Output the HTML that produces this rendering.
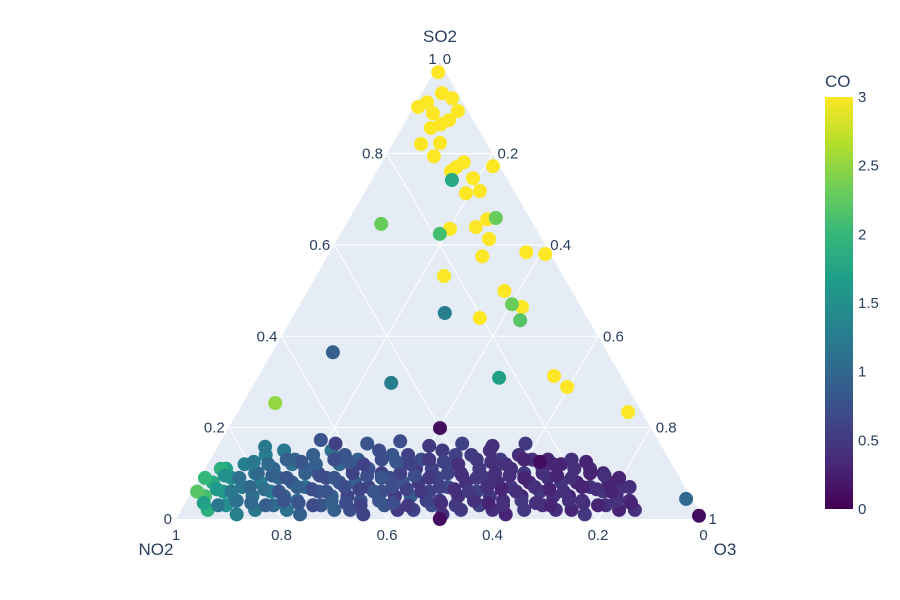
<!DOCTYPE html>
<html><head><meta charset="utf-8">
<style>
body{margin:0;background:#fff;}
svg{display:block;font-family:"Liberation Sans",sans-serif;}
</style></head>
<body>
<svg id="chart" width="900" height="600" viewBox="0 0 900 600">
<defs>
<linearGradient id="viridis" x1="0" y1="1" x2="0" y2="0">
<stop offset="0" stop-color="#440154"/><stop offset="0.111" stop-color="#482878"/><stop offset="0.222" stop-color="#3e4989"/><stop offset="0.333" stop-color="#31688e"/><stop offset="0.444" stop-color="#26828e"/><stop offset="0.556" stop-color="#1f9e89"/><stop offset="0.667" stop-color="#35b779"/><stop offset="0.778" stop-color="#6ece58"/><stop offset="0.889" stop-color="#b5de2b"/><stop offset="1" stop-color="#fde725"/>
</linearGradient>
</defs>
</svg>
<script>
// SO2 (a), O3 (c) fractions; NO2 = 1 - a - c; CO colour values
const so2 = [
0.02,0.03,0.01,0.02,0.03,0.02,0.01,0.03,0.02,0.02,0.01,0.03,0.02,0.02,0.03,0.01,0.02,0.03,0.02,0.01,0.02,0.03,0.02,0.02,0.01,0.03,0.02,0.02,
0.05,0.06,0.04,0.05,0.06,0.05,0.04,0.06,0.05,0.05,0.04,0.06,0.05,0.05,0.06,0.04,0.05,0.06,0.05,0.04,0.05,0.06,0.05,0.05,0.04,0.06,0.05,0.04,
0.08,0.09,0.07,0.08,0.09,0.08,0.07,0.09,0.08,0.08,0.07,0.09,0.08,0.08,0.09,0.07,0.08,0.09,0.08,0.07,0.08,0.09,0.08,0.08,0.07,0.08,0.07,
0.11,0.12,0.10,0.11,0.12,0.11,0.10,0.12,0.11,0.11,0.10,0.12,0.11,0.11,0.12,0.10,0.11,0.12,0.11,0.10,0.11,0.12,0.11,0.11,0.10,
0.14,0.15,0.13,0.14,0.15,0.14,0.13,0.15,0.14,0.14,0.13,0.15,0.14,0.14,0.15,0.13,0.14,0.13,0.13,
0.165,0.165,0.17,0.16,0.165,0.16,0.165,
0.09,0.06,0.11,0.0,
0.035,0.03,0.04,0.035,0.03,0.04,0.035,0.03,0.04,0.035,0.03,0.04,0.035,0.03,0.04,0.035,0.03,0.04,0.035,0.03,0.04,0.035,0.03,0.04,0.035,0.03,0.04,0.035,
0.065,0.06,0.07,0.065,0.06,0.07,0.065,0.06,0.07,0.065,0.06,0.07,0.065,0.06,0.07,0.065,0.06,0.07,0.065,0.06,0.07,0.065,0.06,0.07,0.065,0.06,0.07,
0.095,0.09,0.10,0.095,0.09,0.10,0.095,0.09,0.10,0.095,0.09,0.10,0.095,0.09,0.10,0.095,0.09,0.10,0.095,0.09,0.10,0.095,0.09,0.10,0.095,0.09,
0.125,0.12,0.13,0.125,0.12,0.13,0.125,0.12,0.13,0.125,0.12,0.13,0.125,0.12,0.13,0.125,0.12,0.13,0.125,0.12,0.13,0.125,
0.978,0.932,0.921,0.912,0.902,0.893,0.888,0.873,0.864,0.856,0.821,0.823,0.794,0.781,0.770,0.761,0.772,0.746,0.718,0.713,0.656,0.639,0.635,0.613,0.575,0.584,0.580,0.532,0.499,0.464,0.440,0.313,0.289,0.234,
0.742,0.646,0.624,0.659,0.470,0.435,0.451,0.365,0.298,0.309,0.254,0.199,0.173,0.125,0.044,0.007,0.158];
const o3 = [
0.05,0.08,0.11,0.14,0.17,0.20,0.23,0.26,0.29,0.32,0.35,0.38,0.41,0.44,0.47,0.50,0.53,0.56,0.59,0.62,0.65,0.68,0.71,0.74,0.77,0.80,0.83,0.86,
0.03,0.06,0.09,0.12,0.15,0.18,0.21,0.24,0.27,0.30,0.33,0.36,0.39,0.42,0.45,0.48,0.51,0.54,0.57,0.60,0.63,0.66,0.69,0.72,0.75,0.78,0.81,0.84,
0.03,0.06,0.09,0.12,0.15,0.18,0.21,0.24,0.27,0.30,0.33,0.36,0.39,0.42,0.45,0.48,0.51,0.54,0.57,0.60,0.63,0.66,0.69,0.72,0.75,0.78,0.81,
0.04,0.07,0.10,0.13,0.16,0.19,0.22,0.25,0.28,0.31,0.34,0.37,0.40,0.43,0.46,0.49,0.52,0.55,0.58,0.61,0.64,0.67,0.70,0.73,0.76,
0.10,0.13,0.16,0.19,0.22,0.25,0.28,0.31,0.34,0.37,0.40,0.43,0.46,0.49,0.52,0.55,0.58,0.61,0.64,
0.22,0.28,0.34,0.40,0.46,0.52,0.58,
0.01,0.01,0.03,0.5,
0.035,0.065,0.095,0.125,0.155,0.185,0.215,0.245,0.275,0.305,0.335,0.365,0.395,0.425,0.455,0.485,0.515,0.545,0.575,0.605,0.635,0.665,0.695,0.725,0.755,0.785,0.815,0.845,
0.045,0.075,0.105,0.135,0.165,0.195,0.225,0.255,0.285,0.315,0.345,0.375,0.405,0.435,0.465,0.495,0.525,0.555,0.585,0.615,0.645,0.675,0.705,0.735,0.765,0.795,0.825,
0.045,0.075,0.105,0.135,0.165,0.195,0.225,0.255,0.285,0.315,0.345,0.375,0.405,0.435,0.465,0.495,0.525,0.555,0.585,0.615,0.645,0.675,0.705,0.735,0.765,0.795,
0.085,0.115,0.145,0.175,0.205,0.235,0.265,0.295,0.325,0.355,0.385,0.415,0.445,0.475,0.505,0.535,0.565,0.595,0.625,0.655,0.685,0.715,
0.008,0.038,0.063,0.020,0.008,0.088,0.043,0.081,0.070,0.055,0.054,0.089,0.092,0.155,0.146,0.141,0.215,0.190,0.217,0.193,0.262,0.249,0.202,0.287,0.293,0.372,0.410,0.242,0.373,0.424,0.356,0.560,0.597,0.740,
0.152,0.066,0.188,0.277,0.402,0.435,0.284,0.115,0.259,0.458,0.061,0.401,0.188,0.628,0.945,0.988,0.09];
const co = [
1.9,1.5,1.3,1.2,1.0,1.1,0.9,0.8,0.9,0.7,0.6,0.8,0.5,0.6,0.7,0.4,0.5,0.6,0.4,0.3,0.5,0.4,0.4,0.3,0.5,0.4,0.3,0.4,
2.1,1.6,1.4,1.1,1.3,0.9,1.0,0.8,0.9,0.6,0.8,0.7,0.5,0.9,0.6,0.5,0.4,0.6,0.5,0.4,0.3,0.5,0.4,0.3,0.4,0.5,0.3,0.4,
1.8,1.4,1.2,1.3,1.0,0.9,1.1,0.7,0.8,0.9,0.6,0.7,0.8,0.5,0.6,0.7,0.4,0.5,0.4,0.5,0.3,0.4,0.5,0.3,0.4,0.3,0.4,
1.7,1.3,1.2,1.0,1.1,0.9,0.8,1.0,0.7,0.8,0.6,0.7,0.5,0.6,0.7,0.4,0.5,0.6,0.4,0.5,0.4,0.3,0.4,0.4,0.3,
1.3,1.2,1.0,0.9,1.1,0.8,0.9,0.7,0.8,0.6,0.7,0.5,0.6,0.5,0.4,0.5,0.4,0.4,0.3,
0.6,0.8,0.7,0.5,0.6,0.4,0.5,
2.0,2.2,1.9,0.1,
1.7,1.2,1.1,1.0,0.9,0.8,0.8,0.7,0.9,0.7,0.6,0.8,0.7,0.5,0.6,0.4,0.5,0.4,0.3,0.4,0.5,0.4,0.3,0.4,0.4,0.3,0.4,0.3,
1.6,1.2,1.0,1.1,0.8,0.9,0.7,0.8,0.7,0.6,0.8,0.7,0.6,0.5,0.6,0.4,0.5,0.4,0.3,0.4,0.4,0.3,0.4,0.3,0.4,0.3,0.4,
1.5,1.1,1.0,0.9,0.8,0.9,0.7,0.8,0.6,0.7,0.8,0.6,0.7,0.5,0.6,0.4,0.5,0.4,0.4,0.3,0.4,0.3,0.4,0.3,0.4,0.3,
1.2,1.0,0.9,0.8,0.9,0.7,0.8,0.6,0.7,0.8,0.6,0.5,0.6,0.4,0.5,0.4,0.4,0.3,0.4,0.3,0.4,0.3,
3,3,3,3,3,3,3,3,3,3,3,3,3,3,3,3,3,3,3,3,3,3,3,3,3,3,3,3,3,3,3,3,3,3,
1.8,2.3,2.1,2.3,2.3,2.2,1.3,0.9,1.3,1.7,2.5,0.1,0.8,0.1,1.0,0.1,1.2];
const gridTicks = [0.2,0.4,0.6,0.8];
const tickLabels = ["0.2","0.4","0.6","0.8"];
const cbTicks = [0,0.5,1,1.5,2,2.5,3];

const NS="http://www.w3.org/2000/svg";
const svg=document.getElementById('chart');
const XL=176, XR=703.5, YB=519, W=XR-XL, H=W*0.866;
function px(a,c){return [XL+(c+a/2)*W, YB-a*H];}
function mk(tag,attrs,parent){const e=document.createElementNS(NS,tag);for(const k in attrs)e.setAttribute(k,attrs[k]);(parent||svg).appendChild(e);return e;}
const stops=["#440154","#482878","#3e4989","#31688e","#26828e","#1f9e89","#35b779","#6ece58","#b5de2b","#fde725"];
function hx(h){return [1,3,5].map(i=>parseInt(h.substr(i,2),16));}
function viridis(t){t=Math.max(0,Math.min(1,t));const s=t*9,i=Math.min(8,Math.floor(s)),f=s-i;const a=hx(stops[i]),b=hx(stops[i+1]);return 'rgb('+a.map((v,k)=>Math.round(v+(b[k]-v)*f)).join(',')+')';}

const [tx,ty]=px(1,0),[lx,ly]=px(0,0),[rx,ry]=px(0,1);
const tri=mk('polygon',{points:`${tx},${ty} ${lx},${ly} ${rx},${ry}`,fill:'#e5ecf6'});



const grid=mk('g',{stroke:'#fff','stroke-width':1});


gridTicks.forEach(v=>{
  let p1=px(v,0),p2=px(v,1-v);
  mk('line',{x1:p1[0],y1:p1[1],x2:p2[0],y2:p2[1]},grid);
  p1=px(0,v);p2=px(1-v,v);
  mk('line',{x1:p1[0],y1:p1[1],x2:p2[0],y2:p2[1]},grid);
  p1=px(0,1-v);p2=px(1-v,0);
  mk('line',{x1:p1[0],y1:p1[1],x2:p2[0],y2:p2[1]},grid);
});

const txt=(s,x,y,anchor,size,name)=>{const t=mk('text',{x:x,y:y,'text-anchor':anchor,'font-size':size,fill:'#2a3f5f'});t.textContent=s;return t;};
gridTicks.forEach((v,i)=>{
  let p=px(v,0); txt(tickLabels[i],p[0]-4,p[1]+5,'end',15,'so2-tick-label');
  p=px(1-v,v); txt(tickLabels[i],p[0]+5,p[1]+5,'start',15,'o3-tick-label');
  p=px(0,1-v); txt(tickLabels[i],p[0],YB+21,'middle',15,'no2-tick-label');
});
txt('0',lx-4,ly+5,'end',15,'so2-tick-label');
txt('1',tx-3,ty+2,'end',15,'so2-tick-label');
txt('0',tx+3,ty+2,'start',15,'o3-tick-label');
txt('1',rx+5,ry+5,'start',15,'o3-tick-label');
txt('1',lx,YB+21,'middle',15,'no2-tick-label');
txt('0',rx,YB+21,'middle',15,'no2-tick-label');
txt('SO2',440,42,'middle',17,'so2-axis-title');
txt('NO2',156,555,'middle',17,'no2-axis-title');
txt('O3',725,555,'middle',17,'o3-axis-title');

const pts=mk('g',{});


for(let i=0;i<so2.length;i++){
  const p=px(so2[i],o3[i]);
  const c=mk('circle',{cx:p[0].toFixed(1),cy:p[1].toFixed(1),r:7,fill:viridis(co[i]/3)},pts);
  
  
}

const cbX=825,cbW=28,cbTop=97,cbBot=509;
const cb=mk('rect',{x:cbX,y:cbTop,width:cbW,height:cbBot-cbTop,fill:'url(#viridis)'});


cbTicks.forEach(v=>{const y=cbBot-(v/3)*(cbBot-cbTop);txt(String(v),cbX+cbW+5,y+5,'start',15,'colorbar-tick-label');});
txt('CO',825,87,'start',17,'colorbar-title');
</script>
</body></html>
